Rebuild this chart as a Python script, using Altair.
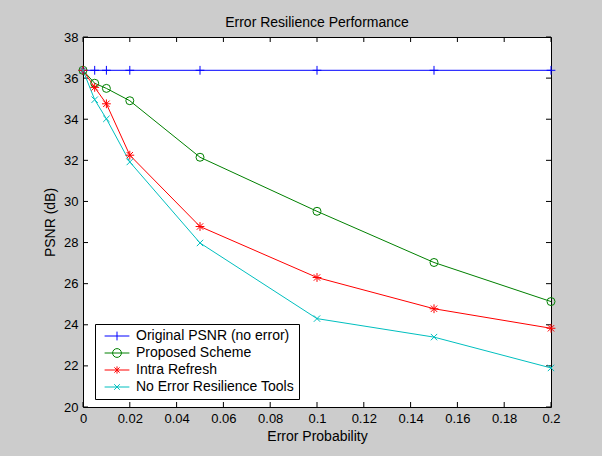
import altair as alt
import pandas as pd

series = ["Original PSNR (no error)", "Proposed Scheme", "Intra Refresh", "No Error Resilience Tools"]
x_vals = [0, 0.005, 0.01, 0.02, 0.05, 0.1, 0.15, 0.2]
original = [36.38, 36.38, 36.38, 36.38, 36.38, 36.38, 36.38, 36.38]
proposed = [36.38, 35.75, 35.5, 34.9, 32.15, 29.52, 27.03, 25.13]
intra = [36.38, 35.55, 34.75, 32.25, 28.78, 26.3, 24.78, 23.83]
no_tools = [36.38, 34.95, 34.02, 31.92, 27.98, 24.3, 23.4, 21.9]
colors = ["#0000ff", "#008000", "#ff0000", "#00bfbf"]
x_ticks = [0, 0.02, 0.04, 0.06, 0.08, 0.1, 0.12, 0.14, 0.16, 0.18, 0.2]
y_ticks = [20, 22, 24, 26, 28, 30, 32, 34, 36, 38]

marker_paths = [
    "M-1.1,0H1.1M0,-1.1V1.1",
    "circle",
    "M-1.1,0H1.1M0,-1.1V1.1M-0.8,-0.8L0.8,0.8M-0.8,0.8L0.8,-0.8",
    "M-0.8,-0.8L0.8,0.8M-0.8,0.8L0.8,-0.8",
]
# legend symbols: short line with the marker in its middle (unit = 4 px)
legend_paths = [
    "M-0.6,0H5.6M2.5,-1.1V1.1",
    "M-0.6,0H5.6M3.6,0A1.1,1.1,0,1,1,1.4,0A1.1,1.1,0,1,1,3.6,0",
    "M-0.6,0H5.6M2.5,-0.9V0.9M1.85,-0.65L3.15,0.65M1.85,0.65L3.15,-0.65",
    "M-0.6,0H5.6M1.8,-0.7L3.2,0.7M1.8,0.7L3.2,-0.7",
]

rows = []
for name, vals in zip(series, [original, proposed, intra, no_tools]):
    for xv, yv in zip(x_vals, vals):
        rows.append({"series": name, "x": xv, "y": yv})
df = pd.DataFrame(rows)

FONT = "Liberation Sans"
W, H = 468, 370

xs = alt.Scale(domain=[0, 0.2], nice=False, zero=False)
ys = alt.Scale(domain=[20, 38], nice=False, zero=False)

X = alt.X("x:Q", scale=xs,
          axis=alt.Axis(values=x_ticks, format="~g", title="Error Probability",
                        labelPadding=5, titlePadding=4, labelFlush=False))
Y = alt.Y("y:Q", scale=ys,
          axis=alt.Axis(values=y_ticks, format="d", title="PSNR (dB)",
                        labelPadding=5, titlePadding=6, labelFlush=False))

base = alt.Chart(df)

lines = base.mark_line(strokeWidth=1).encode(
    x=X, y=Y,
    color=alt.Color("series:N", scale=alt.Scale(domain=series, range=colors), legend=None),
    detail="series:N",
)

markers = base.mark_point(filled=False, strokeWidth=1, size=64, opacity=1).encode(
    x=X, y=Y,
    color=alt.Color("series:N", scale=alt.Scale(domain=series, range=colors), legend=None),
    shape=alt.Shape("series:N", scale=alt.Scale(domain=series, range=marker_paths), legend=None),
)

legend_layer = base.transform_filter("datum.x < -1").mark_point(filled=False, strokeWidth=1, size=64).encode(
    x=X, y=Y,
    color=alt.Color("series:N", scale=alt.Scale(domain=series, range=colors),
                    legend=alt.Legend(orient="none", legendX=12, legendY=287, title=None,
                                      fillColor="white", strokeColor="black", padding=5,
                                      labelFont=FONT, labelFontSize=14, labelColor="black",
                                      symbolSize=64, symbolStrokeWidth=1, labelOffset=22,
                                      rowPadding=3, symbolOpacity=1)),
    shape=alt.Shape("series:N", scale=alt.Scale(domain=series, range=legend_paths)),
)

tick_df = pd.DataFrame({"t": x_ticks})
ytick_df = pd.DataFrame({"t": y_ticks})

xt_bottom = alt.Chart(tick_df).mark_rule(color="black", strokeWidth=1).encode(
    x=alt.X("t:Q", scale=xs), y=alt.value(H), y2=alt.value(H - 5))
xt_top = alt.Chart(tick_df).mark_rule(color="black", strokeWidth=1).encode(
    x=alt.X("t:Q", scale=xs), y=alt.value(0), y2=alt.value(5))
yt_left = alt.Chart(ytick_df).mark_rule(color="black", strokeWidth=1).encode(
    y=alt.Y("t:Q", scale=ys), x=alt.value(0), x2=alt.value(5))
yt_right = alt.Chart(ytick_df).mark_rule(color="black", strokeWidth=1).encode(
    y=alt.Y("t:Q", scale=ys), x=alt.value(W), x2=alt.value(W - 5))

chart = alt.layer(
    xt_bottom, xt_top, yt_left, yt_right, lines, markers, legend_layer
).resolve_scale(color="independent", shape="independent").properties(
    width=W, height=H,
    title=alt.TitleParams("Error Resilience Performance", font=FONT, fontSize=14,
                          fontWeight="normal", color="black", offset=1),
    background="#cccccc",
    padding={"left": 83, "top": 37, "right": 51, "bottom": 49},
    autosize=alt.AutoSizeParams(type="none"),
).configure_view(
    fill="white", stroke="black", strokeWidth=1
).configure_axis(
    grid=False, ticks=False, domain=False,
    labelFont=FONT, labelFontSize=13, labelColor="black",
    titleFont=FONT, titleFontSize=14, titleFontWeight="normal", titleColor="black",
)

chart.save("out.html", embed_options={"renderer": "svg", "actions": False})
